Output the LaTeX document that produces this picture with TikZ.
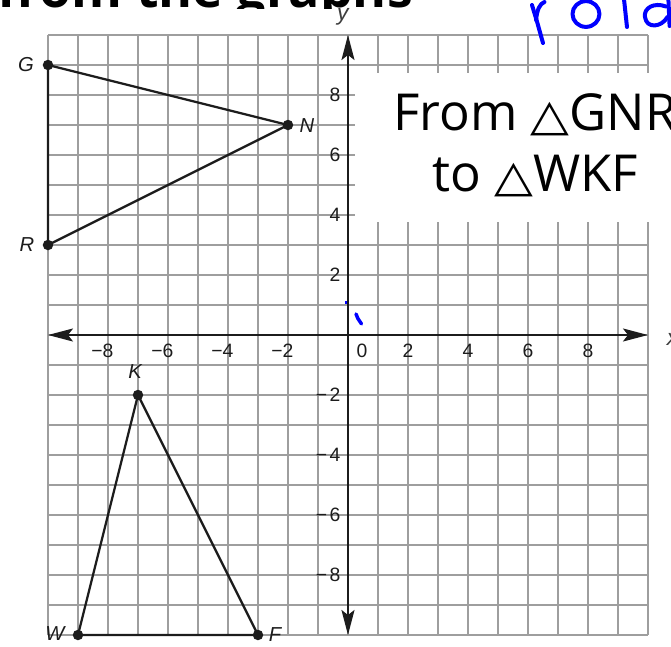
\documentclass[tikz,border=0pt]{standalone}
\usepackage{fontspec}
\usepackage{graphicx}
\usetikzlibrary{arrows.meta}
\newfontfamily\osans{Open Sans}
\newfontfamily\lsans{Liberation Sans}
\newfontfamily\djsans{DejaVu Sans}
\newcommand{\trisym}{{\djsans\fontsize{25}{25}\selectfont\scalebox{1.15}[1.0]{△}}}
\definecolor{gridgray}{RGB}{158,158,158}
\definecolor{ink}{RGB}{28,28,28}
\definecolor{pen}{RGB}{0,0,255}
\begin{document}
\begin{tikzpicture}[x=0.6cm,y=0.6cm,
  gridline/.style={draw=gridgray, line width=1.1pt},
  axisline/.style={draw=ink, line width=1.1pt, {Stealth[length=0.5cm,width=0.26cm,inset=0.1cm]}-{Stealth[length=0.5cm,width=0.26cm,inset=0.1cm]}},
  triline/.style={draw=ink, line width=1.3pt, line join=round},
  vdot/.style={circle, fill=ink, inner sep=0pt, minimum size=0.21cm},
  ticklab/.style={font=\lsans\fontsize{11}{11}\selectfont, text=ink, inner sep=0pt},
  ptlab/.style={font=\lsans\itshape\fontsize{11.5}{11.5}\selectfont, text=ink, inner sep=0pt},
  axlab/.style={font=\lsans\itshape\fontsize{13}{13}\selectfont, text=ink!85, inner sep=0pt},
  headline/.style={font=\osans\fontsize{29}{29}\selectfont, anchor=base, inner sep=0pt},
  toptext/.style={font=\osans\bfseries\fontsize{29.5}{29.5}\selectfont, anchor=base west, inner sep=0pt},
  penstroke/.style={draw=pen, line width=0.08cm, line cap=round, line join=round}]
\useasboundingbox (-11.6,-10.367) rectangle (10.767,11.167);
\clip (-11.6,-10.367) rectangle (10.767,11.167);
% cut-off text at the top
\begin{scope}
  \clip (-11.6,10.9) rectangle (10.767,11.2);
  \node[toptext] (top) at (-11.7,10.933) {from the graphs};
\end{scope}
% grid
\draw[gridline, step=0.6cm] (-10,-10) grid (10,10);
% axes
\coordinate (xl) at (-10,0); \coordinate (xr) at (10,0);
\coordinate (yb) at (0,-10); \coordinate (yt) at (0,10);
\draw[axisline] (xl) -- (xr);
\draw[axisline] (yb) -- (yt);
\node[axlab] (xlab) at (10.82,-0.15) {x};
\node[axlab] (ylab) at (-0.17,10.6) {y};
% tick labels
\foreach \k in {2,4,6,8} {
  \node[ticklab] (xt\k) at (\k,-0.52) {\k};
  \node[ticklab] (yt\k) at (-0.43,\k) {\k};
  \node[ticklab] (xn\k) at (-\k,-0.52) {\llap{−}\k};
  \node[ticklab] (yn\k) at (-0.43,-\k) {\llap{−\hspace{1.5pt}}\k};
}
\node[ticklab] (x0) at (0.47,-0.52) {0};
% white box
\fill[white] (0.233,3.767) rectangle (11,8.733);
\node[headline] (h1) at (6.233,6.833) {From \trisym GNR};
\node[headline] (h2) at (6.233,4.767) {to \trisym WKF};
% triangles
\coordinate (G) at (-10,9); \coordinate (N) at (-2,7); \coordinate (R) at (-10,3);
\coordinate (K) at (-7,-2); \coordinate (W) at (-9,-10); \coordinate (F) at (-3,-10);
\draw[triline] (G) -- (N) -- (R) -- cycle;
\draw[triline] (K) -- (W) -- (F) -- cycle;
\foreach \p in {G,N,R,K,W,F} { \node[vdot] (d\p) at (\p) {}; }
\node[ptlab] (lG) at (-10.73,9.03) {G};
\node[ptlab] (lN) at (-1.37,6.97) {N};
\node[ptlab] (lR) at (-10.7,3.0) {R};
\node[ptlab] (lK) at (-7.1,-1.23) {K};
\node[ptlab] (lW) at (-9.77,-9.95) {W};
\node[ptlab] (lF) at (-2.43,-9.97) {F};
% blue pen marks near origin
\draw[pen, line width=0.045cm] (-0.067,1.13) -- (-0.067,1.02);
\draw[penstroke, line width=0.07cm] (0.267,0.7) -- (0.33,0.55) -- (0.45,0.37);
% handwritten "rota"
\draw[penstroke] (6.133,11.0) -- (6.3,10.45) -- (6.5,9.733);
\draw[penstroke] (6.27,10.5) .. controls (6.3,10.85) and (6.4,11.05) .. (6.55,11.1);
\draw[penstroke] (7.933,10.7) ellipse [x radius=0.45, y radius=0.43];
\draw[penstroke] (9.2,11.2) -- (9.3,10.267);
\draw[penstroke] (10.6,10.95) .. controls (10.2,11.1) and (9.85,10.9) .. (9.9,10.6) .. controls (9.95,10.2) and (10.45,10.25) .. (10.65,10.6);
\draw[penstroke] (10.68,11.2) -- (10.72,10.3);
\end{tikzpicture}
\end{document}
